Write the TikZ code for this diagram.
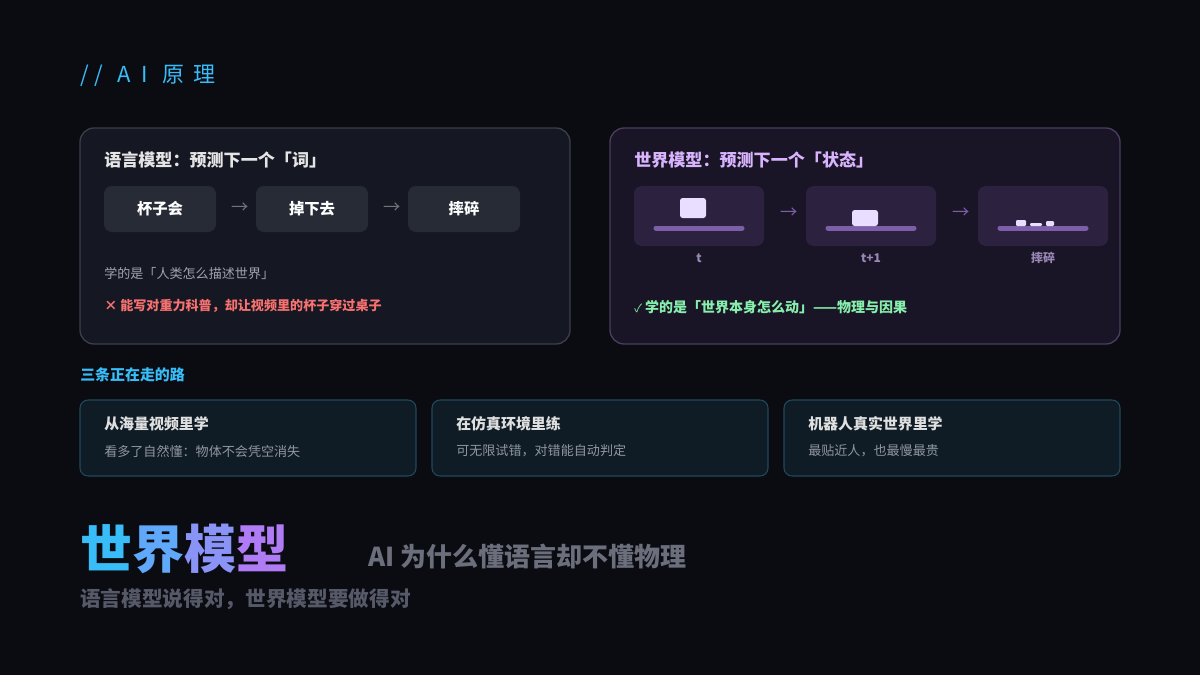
\documentclass[tikz,border=0pt]{standalone}
\usepackage{fontspec}
\setmainfont{Noto Sans CJK SC}
\begin{document}
\begin{tikzpicture}[x=0.75pt,y=-0.75pt,
  panelL/.style={draw=bordL,fill=panL,line width=1pt,rounded corners=10.5pt},
  panelR/.style={draw=bordR,fill=panR,line width=1pt,rounded corners=10.5pt},
  wbox/.style={fill=boxL,rounded corners=6pt,minimum width=84pt,minimum height=34.5pt,text=white,font=\fontsize{11.5}{13}\selectfont\bfseries},
  frame/.style={fill=frameC,rounded corners=6pt},
  floor/.style={draw=floorC,line width=3.75pt,line cap=round},
  cup/.style={fill=cupC,rounded corners=2pt},
  shard/.style={fill=cupC,rounded corners=0.8pt},
  flab/.style={text=labC,font=\fontsize{9}{10}\selectfont\bfseries},
  arr/.style={font=\fontsize{13}{14}\selectfont},
  road/.style={draw=roadB,fill=roadF,line width=0.8pt,rounded corners=6pt},
  rt/.style={anchor=west,inner sep=0pt,text=white!88!black,font=\fontsize{11.2}{13}\selectfont\bfseries},
  rs/.style={anchor=west,inner sep=0pt,text=subC,font=\fontsize{9.8}{12}\selectfont}]
\definecolor{bg}{HTML}{0B0B12}
\definecolor{panL}{HTML}{151822}
\definecolor{bordL}{HTML}{3A3F4B}
\definecolor{panR}{HTML}{1A1526}
\definecolor{bordR}{HTML}{4A3D5E}
\definecolor{boxL}{HTML}{272B36}
\definecolor{frameC}{HTML}{2C2240}
\definecolor{floorC}{HTML}{7C5FA8}
\definecolor{cupC}{HTML}{E9DEFF}
\definecolor{labC}{HTML}{9A88B8}
\definecolor{cyanC}{HTML}{38BDF8}
\definecolor{roadB}{HTML}{1F4A5C}
\definecolor{roadF}{HTML}{0F1C26}
\definecolor{subC}{HTML}{9096A0}
\definecolor{grayT}{HTML}{A0A4AD}
\definecolor{redT}{HTML}{F87171}
\definecolor{greenT}{HTML}{86EFAC}
\definecolor{purT}{HTML}{D8B4FE}
\definecolor{subT}{HTML}{6B6E7B}
\definecolor{botT}{HTML}{555968}
\fill[bg] (0,0) rectangle (1200,675);
\useasboundingbox (0,0) rectangle (1200,675);
\node[anchor=west,inner sep=0pt,text=cyanC,font=\fontsize{16.5}{18}\selectfont] (hdr) at (80,76) {/\kern4pt/\kern11pt A\kern8pt I\kern11pt 原\kern7pt 理};
% left panel
\draw[panelL] (80,128) rectangle (570,344);
\node[anchor=west,inner sep=0pt,text=white!90!black,font=\fontsize{12.8}{14}\selectfont\bfseries] (lt) at (104,160) {语言模型：预测下一个「词」};
\node[wbox] (w1) at (160,209) {杯子会};
\node[wbox] (w2) at (312,209) {掉下去};
\node[wbox] (w3) at (464,209) {摔碎};
\node[arr,text=grayT!70!black] (a1) at (240,208) {→};
\node[arr,text=grayT!70!black] (a2) at (392,208) {→};
\node[anchor=west,inner sep=0pt,text=grayT,font=\fontsize{9.8}{12}\selectfont] (l1) at (104,274) {学的是「人类怎么描述世界」};
\node[anchor=west,inner sep=0pt,text=redT,font=\fontsize{9.8}{12}\selectfont\bfseries] (l2) at (104,306) {× 能写对重力科普，却让视频里的杯子穿过桌子};
% right panel
\draw[panelR] (610,128) rectangle (1120,344);
\node[anchor=west,inner sep=0pt,text=purT,font=\fontsize{12.8}{14}\selectfont\bfseries] (rtl) at (634,160) {世界模型：预测下一个「状态」};
\foreach \x/\n in {634/f1,806/f2,978/f3}{
  \fill[frame] (\x,186) rectangle ++(130,60);
  \draw[floor] (\x+22,228) -- (\x+108,228);
}
\fill[cup] (680,198) rectangle (706,218);
\fill[cup] (852,210) rectangle (878,226);
\fill[shard] (1016,220) rectangle (1026,226);
\fill[shard] (1030,223) rectangle (1042,226);
\fill[shard] (1046,221) rectangle (1054,226);
\node[flab] (t1) at (699,258) {t};
\node[flab] (t2) at (871,258) {t+1};
\node[flab] (t3) at (1043,258) {摔碎};
\node[arr,text=floorC] (b1) at (789,213) {→};
\node[arr,text=floorC] (b2) at (961,213) {→};
\node[anchor=west,inner sep=0pt,text=greenT,font=\fontsize{10.5}{12}\selectfont\bfseries] (rc) at (634,307) {{\mdseries\fontsize{8.5}{10}\selectfont ✓} 学的是「世界本身怎么动」——物理与因果};
% roads
\node[anchor=west,inner sep=0pt,text=cyanC,font=\fontsize{11.2}{13}\selectfont\bfseries] (rh) at (80,375) {三条正在走的路};
\draw[road] (80,400) rectangle (416,476);
\draw[road] (432,400) rectangle (768,476);
\draw[road] (784,400) rectangle (1120,476);
\node[rt] (r1) at (104,424) {从海量视频里学};
\node[rs] (s1) at (104,451) {看多了自然懂：物体不会凭空消失};
\node[rt] (r2) at (456,424) {在仿真环境里练};
\node[rs] (s2) at (456,451) {可无限试错，对错能自动判定};
\node[rt] (r3) at (808,424) {机器人真实世界里学};
\node[rs] (s3) at (808,451) {最贴近人，也最慢最贵};
% bottom
\definecolor{g1}{HTML}{38BDF8}\definecolor{g2}{HTML}{5FA8FA}\definecolor{g3}{HTML}{8A93F6}\definecolor{g4}{HTML}{B07CF5}
\node[anchor=west,inner sep=0pt,font=\fontsize{39}{44}\selectfont\bfseries] (big) at (80,549) {\textcolor{g1}{世}\textcolor{g2}{界}\textcolor{g3}{模}\textcolor{g4}{型}};
\node[anchor=west,inner sep=0pt,text=subT,font=\fontsize{19.5}{22}\selectfont\bfseries] (sub) at (368,557) {AI 为什么懂语言却不懂物理};
\node[anchor=west,inner sep=0pt,text=botT,font=\fontsize{15.5}{17}\selectfont\bfseries] (bt) at (80,599) {语言模型说得对，世界模型要做得对};
\end{tikzpicture}
\end{document}
